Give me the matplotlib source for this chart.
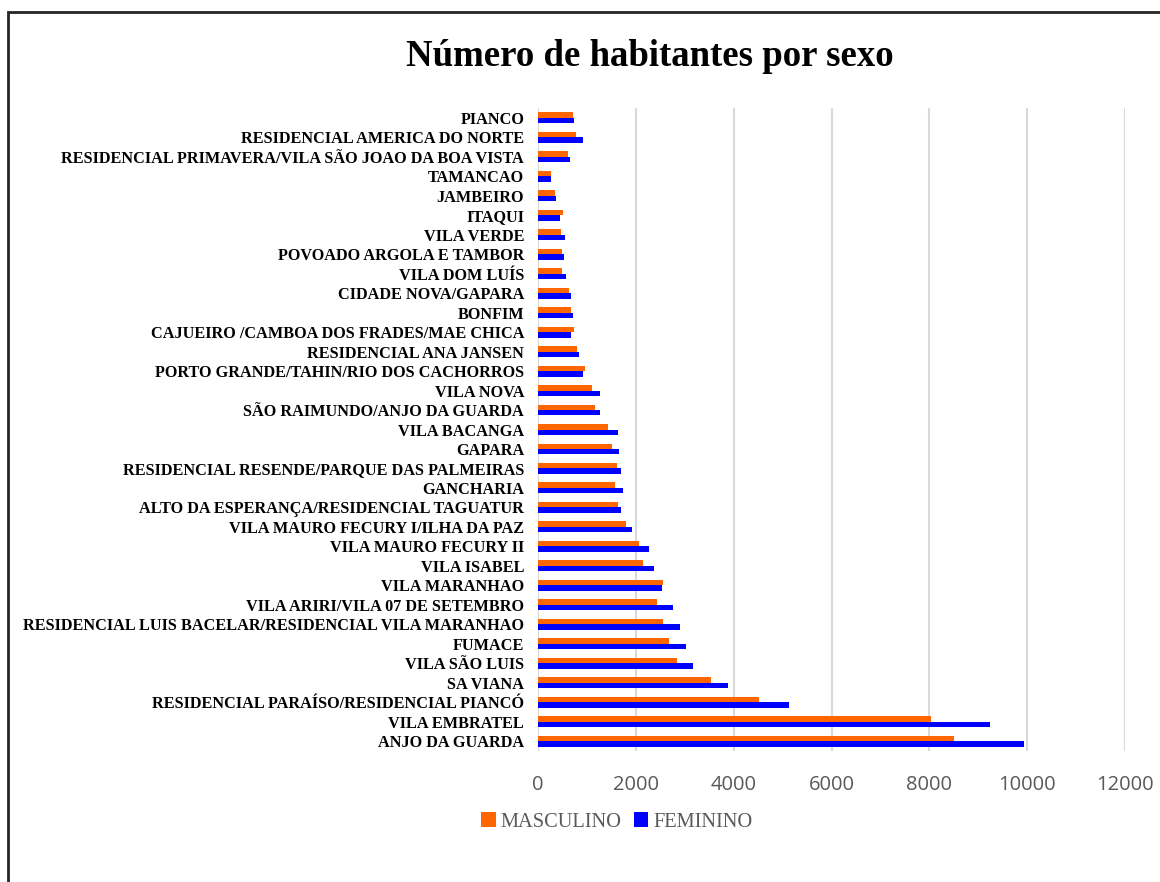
import matplotlib
matplotlib.use('Agg')
import matplotlib.pyplot as plt
from matplotlib.patches import Rectangle
import numpy as np

# categories listed bottom -> top (as drawn)
bairros = [
    "ANJO DA GUARDA", "VILA EMBRATEL", "RESIDENCIAL PARAÍSO/RESIDENCIAL PIANCÓ",
    "SA VIANA", "VILA SÃO LUIS", "FUMACE",
    "RESIDENCIAL LUIS BACELAR/RESIDENCIAL VILA MARANHAO",
    "VILA ARIRI/VILA 07 DE SETEMBRO", "VILA MARANHAO", "VILA ISABEL",
    "VILA MAURO FECURY II", "VILA MAURO FECURY I/ILHA DA PAZ",
    "ALTO DA ESPERANÇA/RESIDENCIAL TAGUATUR", "GANCHARIA",
    "RESIDENCIAL RESENDE/PARQUE DAS PALMEIRAS", "GAPARA", "VILA BACANGA",
    "SÃO RAIMUNDO/ANJO DA GUARDA", "VILA NOVA",
    "PORTO GRANDE/TAHIN/RIO DOS CACHORROS", "RESIDENCIAL ANA JANSEN",
    "CAJUEIRO /CAMBOA DOS FRADES/MAE CHICA", "BONFIM", "CIDADE NOVA/GAPARA",
    "VILA DOM LUÍS", "POVOADO ARGOLA E TAMBOR", "VILA VERDE", "ITAQUI",
    "JAMBEIRO", "TAMANCAO", "RESIDENCIAL PRIMAVERA/VILA SÃO JOAO DA BOA VISTA",
    "RESIDENCIAL AMERICA DO NORTE", "PIANCO",
]
masculino = [8510, 8040, 4520, 3540, 2850, 2680, 2560, 2440, 2560, 2140,
             2060, 1800, 1640, 1580, 1620, 1510, 1440, 1160, 1100, 970,
             790, 740, 665, 640, 500, 500, 480, 515, 345, 262, 605, 770, 712]
feminino = [9940, 9250, 5140, 3880, 3170, 3020, 2900, 2760, 2530, 2380,
            2260, 1930, 1690, 1735, 1690, 1650, 1640, 1270, 1260, 910,
            840, 670, 720, 665, 570, 535, 555, 440, 372, 270, 650, 910, 740]

fig = plt.figure(figsize=(11.6, 8.82), dpi=100)
ax = fig.add_axes([538 / 1160, 1 - 751 / 882, (1125 - 538) / 1160, (751 - 108) / 882])

y = np.arange(len(bairros))
h = 0.28
ax.barh(y + h / 2, masculino, height=h, color='#FF6600', label='MASCULINO', zorder=3)
ax.barh(y - h / 2, feminino, height=h, color='#0000FF', label='FEMININO', zorder=3)

ax.set_xlim(0, 12000)
ax.set_ylim(-0.5, len(bairros) - 0.5)
ax.set_xticks(np.arange(0, 12001, 2000))
ax.set_yticks(y)
ax.set_yticklabels(bairros, fontfamily='Liberation Serif', fontweight='bold', fontsize=11.7)
ax.tick_params(axis='y', length=0, pad=10)
ax.tick_params(axis='x', length=0, pad=17, labelsize=14.5, labelcolor='#595959')
for lbl in ax.get_xticklabels():
    lbl.set_fontfamily('Open Sans')
ax.grid(axis='x', color='#d9d9d9', lw=1.5, zorder=0)
for s in ax.spines.values():
    s.set_visible(False)

fig.text(650 / 1160, 1 - 56 / 882, 'Número de habitantes por sexo', ha='center', va='center',
         fontfamily='Liberation Serif', fontweight='bold', fontsize=26.5)

leg = fig.legend(loc='center', bbox_to_anchor=(617 / 1160, 1 - 822 / 882), ncol=2, frameon=False,
                 handlelength=0.7, handleheight=0.7, handletextpad=0.25, columnspacing=0.6,
                 prop={'family': 'Liberation Serif', 'size': 14.7})
for t in leg.get_texts():
    t.set_color('#595959')

# outer chart border
fig.patches.append(Rectangle((8 / 1160, -0.05), 1.1, 1 - 12 / 882 + 0.05, transform=fig.transFigure,
                             fill=False, edgecolor='#262626', lw=2, zorder=10))

fig.savefig('out.png', dpi=100)
